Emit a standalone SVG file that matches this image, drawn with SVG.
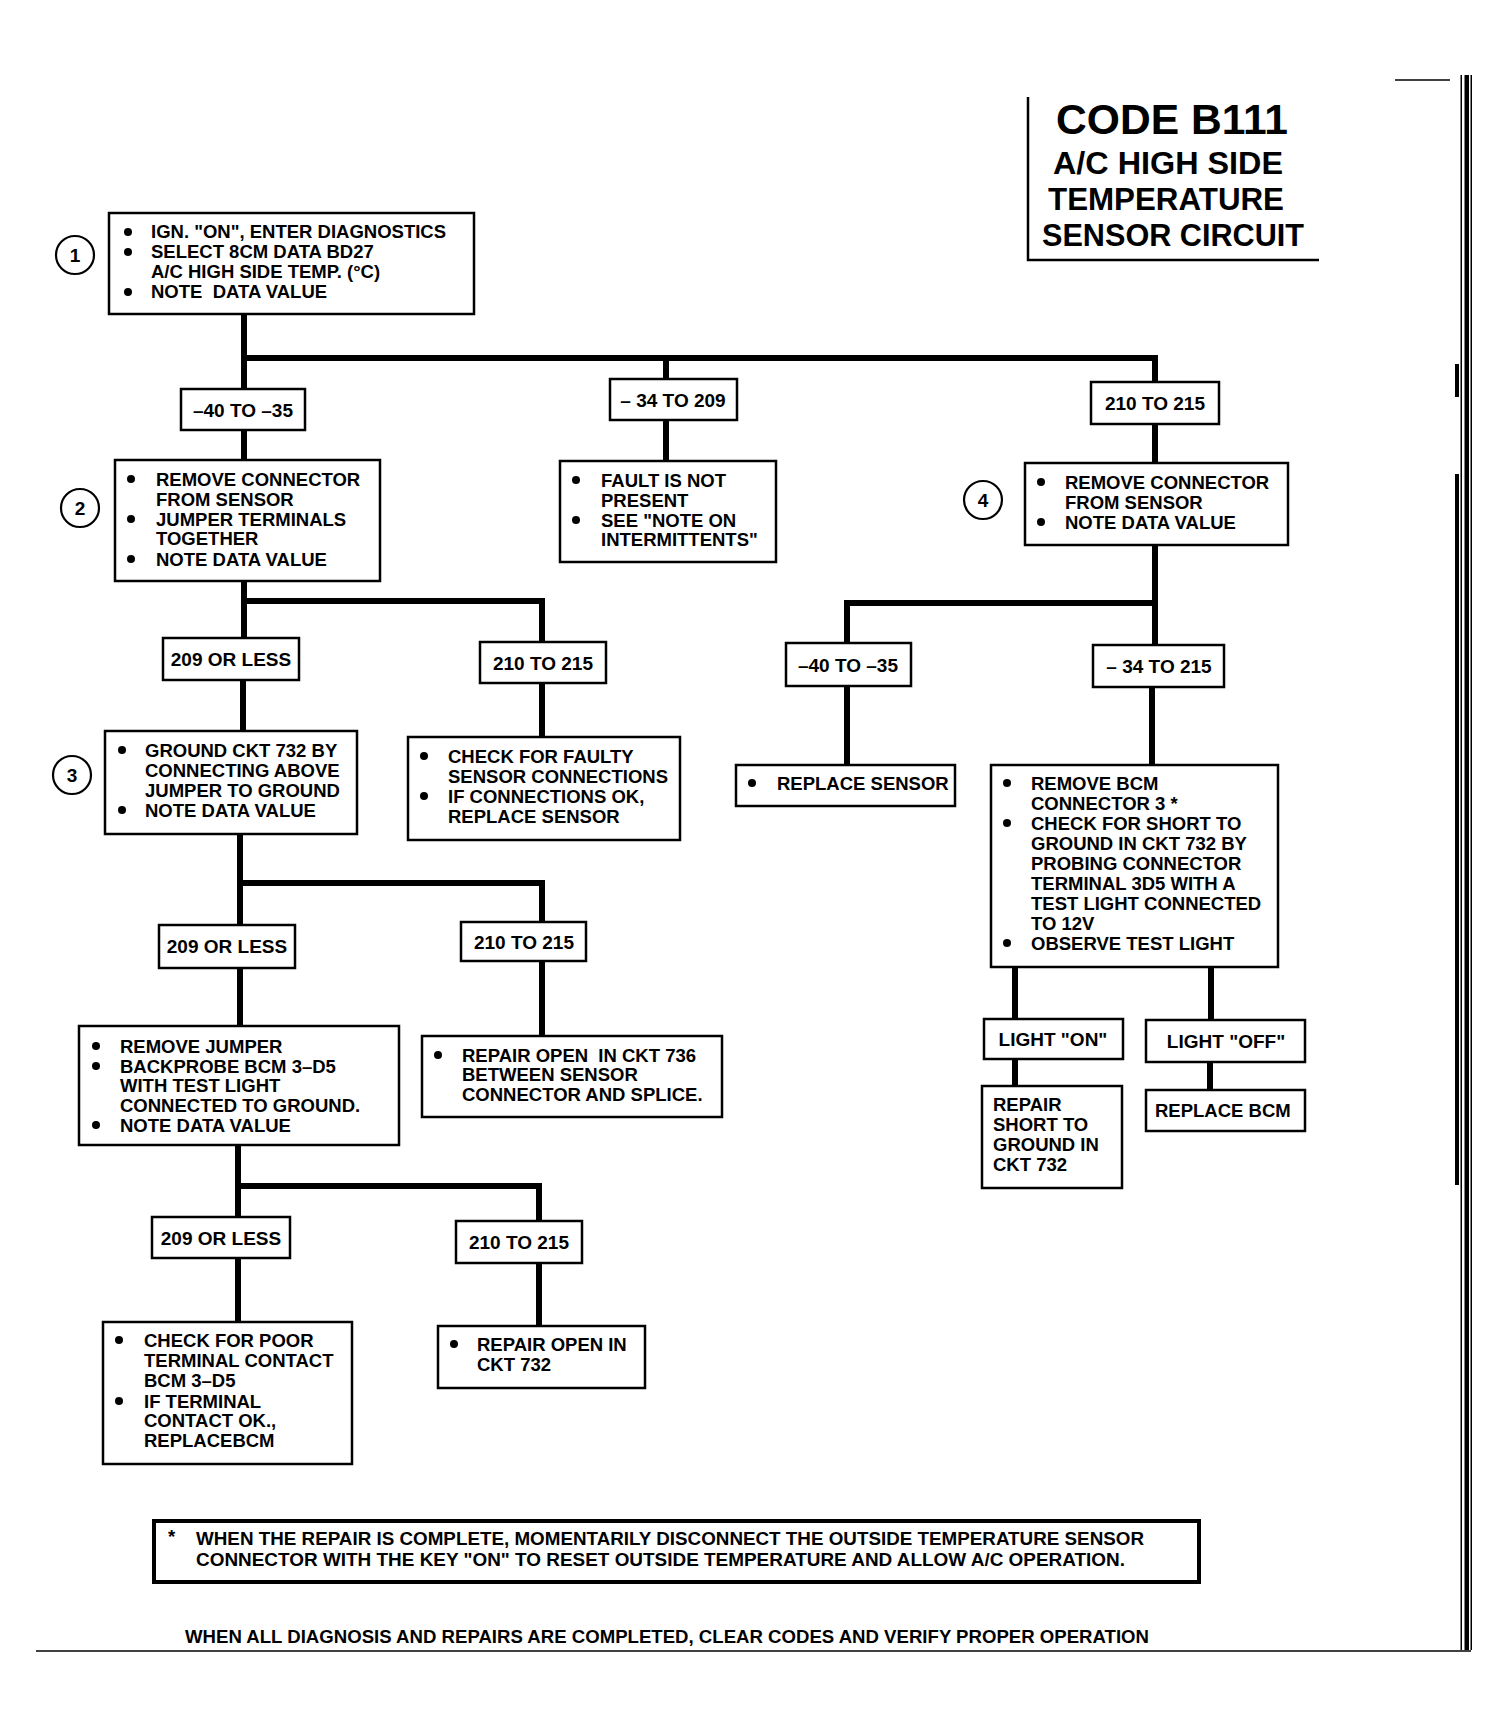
<svg xmlns="http://www.w3.org/2000/svg" width="1509" height="1728" viewBox="0 0 1509 1728">
<style>
.bg{fill:#fff}
.box{fill:#fff;stroke:#000;stroke-width:2.5}
.note{fill:#fff;stroke:#000;stroke-width:4}
.t{font-family:"Liberation Sans",Arial,sans-serif;font-weight:bold;font-size:18.5px;fill:#000}
.lb{font-family:"Liberation Sans",Arial,sans-serif;font-weight:bold;font-size:19px;fill:#000;text-anchor:middle}
.ttl{font-family:"Liberation Sans",Arial,sans-serif;font-weight:bold;fill:#000;text-anchor:middle}
.num{font-family:"Liberation Sans",Arial,sans-serif;font-weight:bold;font-size:19px;fill:#000;text-anchor:middle}
.circ{fill:#fff;stroke:#000;stroke-width:2.2}
.bul{fill:#000}
.con{fill:none;stroke:#000;stroke-width:6;stroke-linecap:butt;stroke-linejoin:miter}
.rule{fill:none;stroke:#000}
</style>
<rect class="bg" x="0" y="0" width="1509" height="1728"/>

<g id="connectors">
<path class="con" d="M244,314 V389"/>
<path class="con" d="M244,358 H1155 V382"/>
<path class="con" d="M666,358 V379"/>
<path class="con" d="M244,430 V460"/>
<path class="con" d="M666,420 V461"/>
<path class="con" d="M1155,424 V463"/>
<path class="con" d="M1155,545 V645"/>
<path class="con" d="M847,643 V603 H1155"/>
<path class="con" d="M847,686 V765"/>
<path class="con" d="M1152,687 V765"/>
<path class="con" d="M1015,967 V1019"/>
<path class="con" d="M1015,1059 V1086"/>
<path class="con" d="M1211,967 V1020"/>
<path class="con" d="M1210,1062 V1090"/>
<path class="con" d="M244,581 V638"/>
<path class="con" d="M244,601 H542 V642"/>
<path class="con" d="M243,680 V731"/>
<path class="con" d="M542,683 V737"/>
<path class="con" d="M240,834 V925"/>
<path class="con" d="M240,883 H542 V922"/>
<path class="con" d="M240,968 V1026"/>
<path class="con" d="M542,961 V1036"/>
<path class="con" d="M238,1145 V1217"/>
<path class="con" d="M238,1186 H539 V1221"/>
<path class="con" d="M238,1258 V1322"/>
<path class="con" d="M539,1263 V1326"/>
</g>

<g id="title">
<path class="rule" stroke-width="2.5" d="M1028,97 V260 H1319"/>
<text class="ttl" x="1172" y="134" font-size="43" textLength="232" lengthAdjust="spacingAndGlyphs">CODE B111</text>
<text class="ttl" x="1168" y="174" font-size="32" textLength="230" lengthAdjust="spacingAndGlyphs">A/C HIGH SIDE</text>
<text class="ttl" x="1166" y="210" font-size="32" textLength="236" lengthAdjust="spacingAndGlyphs">TEMPERATURE</text>
<text class="ttl" x="1173" y="246" font-size="32" textLength="262" lengthAdjust="spacingAndGlyphs">SENSOR CIRCUIT</text>
</g>

<g id="step1">
<circle class="circ" cx="75" cy="255" r="19"/>
<text class="num" x="75" y="262">1</text>
</g>
<g id="box1">
<rect class="box" x="109" y="213" width="365" height="101"/>
<circle class="bul" cx="128" cy="232" r="4"/>
<text class="t" x="151" y="238">IGN. "ON", ENTER DIAGNOSTICS</text>
<circle class="bul" cx="128" cy="252" r="4"/>
<text class="t" x="151" y="258">SELECT 8CM DATA BD27</text>
<text class="t" x="151" y="278">A/C HIGH SIDE TEMP. (°C)</text>
<circle class="bul" cx="128" cy="292" r="4"/>
<text class="t" x="151" y="298" xml:space="preserve">NOTE  DATA VALUE</text>
</g>

<g id="lbl_m40a">
<rect class="box" x="181" y="389" width="124" height="41"/>
<text class="lb" x="243" y="417">–40 TO –35</text>
</g>
<g id="lbl_m34a">
<rect class="box" x="610" y="379" width="127" height="41"/>
<text class="lb" x="673" y="407">– 34 TO 209</text>
</g>
<g id="lbl_210a">
<rect class="box" x="1091" y="382" width="128" height="42"/>
<text class="lb" x="1155" y="410">210 TO 215</text>
</g>

<g id="step2">
<circle class="circ" cx="80" cy="508" r="19"/>
<text class="num" x="80" y="515">2</text>
</g>
<g id="box2">
<rect class="box" x="115" y="460" width="265" height="121"/>
<circle class="bul" cx="131" cy="479" r="4"/>
<text class="t" x="156" y="486">REMOVE CONNECTOR</text>
<text class="t" x="156" y="506">FROM SENSOR</text>
<circle class="bul" cx="131" cy="519" r="4"/>
<text class="t" x="156" y="526">JUMPER TERMINALS</text>
<text class="t" x="156" y="545">TOGETHER</text>
<circle class="bul" cx="131" cy="559" r="4"/>
<text class="t" x="156" y="566">NOTE DATA VALUE</text>
</g>

<g id="box_fault">
<rect class="box" x="560" y="461" width="216" height="101"/>
<circle class="bul" cx="576" cy="480" r="4"/>
<text class="t" x="601" y="487">FAULT IS NOT</text>
<text class="t" x="601" y="507">PRESENT</text>
<circle class="bul" cx="576" cy="520" r="4"/>
<text class="t" x="601" y="527">SEE "NOTE ON</text>
<text class="t" x="601" y="546">INTERMITTENTS"</text>
</g>

<g id="step4">
<circle class="circ" cx="983" cy="500" r="19"/>
<text class="num" x="983" y="507">4</text>
</g>
<g id="box4">
<rect class="box" x="1025" y="463" width="263" height="82"/>
<circle class="bul" cx="1041" cy="482" r="4"/>
<text class="t" x="1065" y="489">REMOVE CONNECTOR</text>
<text class="t" x="1065" y="509">FROM SENSOR</text>
<circle class="bul" cx="1041" cy="522" r="4"/>
<text class="t" x="1065" y="529">NOTE DATA VALUE</text>
</g>

<g id="lbl_209a">
<rect class="box" x="163" y="638" width="136" height="42"/>
<text class="lb" x="231" y="666">209 OR LESS</text>
</g>
<g id="lbl_210b">
<rect class="box" x="480" y="642" width="126" height="41"/>
<text class="lb" x="543" y="670">210 TO 215</text>
</g>
<g id="lbl_m40b">
<rect class="box" x="786" y="643" width="125" height="43"/>
<text class="lb" x="848" y="672">–40 TO –35</text>
</g>
<g id="lbl_m34b">
<rect class="box" x="1093" y="645" width="131" height="42"/>
<text class="lb" x="1159" y="673">– 34 TO 215</text>
</g>

<g id="step3">
<circle class="circ" cx="72" cy="775" r="19"/>
<text class="num" x="72" y="782">3</text>
</g>
<g id="box3">
<rect class="box" x="105" y="731" width="252" height="103"/>
<circle class="bul" cx="122" cy="750" r="4"/>
<text class="t" x="145" y="757">GROUND CKT 732 BY</text>
<text class="t" x="145" y="777">CONNECTING ABOVE</text>
<text class="t" x="145" y="797">JUMPER TO GROUND</text>
<circle class="bul" cx="122" cy="810" r="4"/>
<text class="t" x="145" y="817">NOTE DATA VALUE</text>
</g>

<g id="box_faulty">
<rect class="box" x="408" y="737" width="272" height="103"/>
<circle class="bul" cx="424" cy="756" r="4"/>
<text class="t" x="448" y="763">CHECK FOR FAULTY</text>
<text class="t" x="448" y="783">SENSOR CONNECTIONS</text>
<circle class="bul" cx="424" cy="796" r="4"/>
<text class="t" x="448" y="803">IF CONNECTIONS OK,</text>
<text class="t" x="448" y="823">REPLACE SENSOR</text>
</g>

<g id="box_replsensor">
<rect class="box" x="736" y="765" width="219" height="41"/>
<circle class="bul" cx="752" cy="783" r="4"/>
<text class="t" x="777" y="790">REPLACE SENSOR</text>
</g>

<g id="box_bcm">
<rect class="box" x="991" y="765" width="287" height="202"/>
<circle class="bul" cx="1007" cy="783" r="4"/>
<text class="t" x="1031" y="790">REMOVE BCM</text>
<text class="t" x="1031" y="810">CONNECTOR 3 *</text>
<circle class="bul" cx="1007" cy="823" r="4"/>
<text class="t" x="1031" y="830">CHECK FOR SHORT TO</text>
<text class="t" x="1031" y="850">GROUND IN CKT 732 BY</text>
<text class="t" x="1031" y="870">PROBING CONNECTOR</text>
<text class="t" x="1031" y="890">TERMINAL 3D5 WITH A</text>
<text class="t" x="1031" y="910">TEST LIGHT CONNECTED</text>
<text class="t" x="1031" y="930">TO 12V</text>
<circle class="bul" cx="1007" cy="943" r="4"/>
<text class="t" x="1031" y="950">OBSERVE TEST LIGHT</text>
</g>

<g id="lbl_on">
<rect class="box" x="984" y="1019" width="139" height="40"/>
<text class="lb" x="1053" y="1046">LIGHT "ON"</text>
</g>
<g id="lbl_off">
<rect class="box" x="1146" y="1020" width="159" height="42"/>
<text class="lb" x="1226" y="1048">LIGHT "OFF"</text>
</g>
<g id="box_short">
<rect class="box" x="982" y="1086" width="140" height="102"/>
<text class="t" x="993" y="1111">REPAIR</text>
<text class="t" x="993" y="1131">SHORT TO</text>
<text class="t" x="993" y="1151">GROUND IN</text>
<text class="t" x="993" y="1171">CKT 732</text>
</g>
<g id="box_replbcm">
<rect class="box" x="1146" y="1090" width="159" height="41"/>
<text class="t" x="1155" y="1117">REPLACE BCM</text>
</g>

<g id="lbl_209c">
<rect class="box" x="159" y="925" width="136" height="43"/>
<text class="lb" x="227" y="953">209 OR LESS</text>
</g>
<g id="lbl_210c">
<rect class="box" x="461" y="922" width="125" height="39"/>
<text class="lb" x="524" y="949">210 TO 215</text>
</g>

<g id="box_jumper">
<rect class="box" x="79" y="1026" width="320" height="119"/>
<circle class="bul" cx="96" cy="1046" r="4"/>
<text class="t" x="120" y="1053">REMOVE JUMPER</text>
<circle class="bul" cx="96" cy="1066" r="4"/>
<text class="t" x="120" y="1073">BACKPROBE BCM 3–D5</text>
<text class="t" x="120" y="1092">WITH TEST LIGHT</text>
<text class="t" x="120" y="1112">CONNECTED TO GROUND.</text>
<circle class="bul" cx="96" cy="1125" r="4"/>
<text class="t" x="120" y="1132">NOTE DATA VALUE</text>
</g>

<g id="box_open736">
<rect class="box" x="422" y="1036" width="300" height="81"/>
<circle class="bul" cx="438" cy="1055" r="4"/>
<text class="t" x="462" y="1062" xml:space="preserve">REPAIR OPEN  IN CKT 736</text>
<text class="t" x="462" y="1081">BETWEEN SENSOR</text>
<text class="t" x="462" y="1101">CONNECTOR AND SPLICE.</text>
</g>

<g id="lbl_209d">
<rect class="box" x="152" y="1217" width="138" height="41"/>
<text class="lb" x="221" y="1245">209 OR LESS</text>
</g>
<g id="lbl_210d">
<rect class="box" x="456" y="1221" width="126" height="42"/>
<text class="lb" x="519" y="1249">210 TO 215</text>
</g>

<g id="box_poor">
<rect class="box" x="103" y="1322" width="249" height="142"/>
<circle class="bul" cx="119" cy="1340" r="4"/>
<text class="t" x="144" y="1347">CHECK FOR POOR</text>
<text class="t" x="144" y="1367">TERMINAL CONTACT</text>
<text class="t" x="144" y="1387">BCM 3–D5</text>
<circle class="bul" cx="119" cy="1401" r="4"/>
<text class="t" x="144" y="1408">IF TERMINAL</text>
<text class="t" x="144" y="1427">CONTACT OK.,</text>
<text class="t" x="144" y="1447">REPLACEBCM</text>
</g>

<g id="box_open732">
<rect class="box" x="438" y="1326" width="207" height="62"/>
<circle class="bul" cx="454" cy="1344" r="4"/>
<text class="t" x="477" y="1351">REPAIR OPEN IN</text>
<text class="t" x="477" y="1371">CKT 732</text>
</g>

<g id="note">
<rect class="note" x="154" y="1521" width="1045" height="61"/>
<text class="t" x="168" y="1543">*</text>
<text class="t" x="196" y="1545" textLength="948" lengthAdjust="spacingAndGlyphs">WHEN THE REPAIR IS COMPLETE, MOMENTARILY DISCONNECT THE OUTSIDE TEMPERATURE SENSOR</text>
<text class="t" x="196" y="1566" textLength="929" lengthAdjust="spacingAndGlyphs">CONNECTOR WITH THE KEY "ON" TO RESET OUTSIDE TEMPERATURE AND ALLOW A/C OPERATION.</text>
</g>

<g id="footer">
<text class="t" x="185" y="1643" textLength="964" lengthAdjust="spacingAndGlyphs">WHEN ALL DIAGNOSIS AND REPAIRS ARE COMPLETED, CLEAR CODES AND VERIFY PROPER OPERATION</text>
<path class="rule" stroke-width="1.5" d="M36,1651 H1471"/>
</g>

<g id="page_edge">
<path class="rule" stroke-width="1.5" d="M1395,80 H1450"/>
<rect x="1455" y="364" width="4" height="33" fill="#000"/>
<rect x="1455" y="474" width="4" height="711" fill="#000"/>
<rect x="1460.5" y="75" width="1.5" height="1575" fill="#000"/>
<rect x="1464.5" y="75" width="4.5" height="1575" fill="#000"/>
<rect x="1470.5" y="75" width="1.5" height="1575" fill="#000"/>
</g>
</svg>
